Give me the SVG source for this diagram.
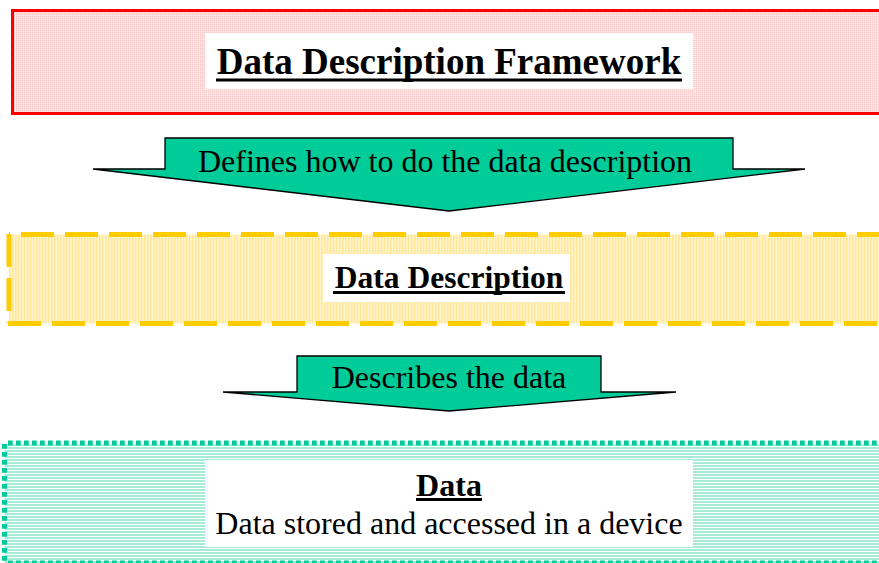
<svg xmlns="http://www.w3.org/2000/svg" width="879" height="563" viewBox="0 0 879 563">
<defs>
<pattern id="pinkDots" width="2" height="2" patternUnits="userSpaceOnUse">
<rect width="2" height="2" fill="#FFD2D2"/>
<rect x="1" y="1" width="1" height="1" fill="#FFFFFF"/>
</pattern>
<pattern id="yellowStripes" width="3" height="4" patternUnits="userSpaceOnUse">
<rect width="3" height="4" fill="#FFF4CC"/>
<rect x="0" y="0" width="1.5" height="4" fill="#FFE699"/>
</pattern>
<pattern id="greenStripes" width="4" height="3" patternUnits="userSpaceOnUse">
<rect width="4" height="3" fill="#FFFFFF"/>
<rect x="0" y="0" width="4" height="2" fill="#A6EBD6"/>
</pattern>
<style>
.bold{font-family:"Liberation Serif","Times New Roman",serif;font-weight:bold;fill:#000;text-anchor:middle}
.reg{font-family:"Liberation Serif","Times New Roman",serif;fill:#000;text-anchor:middle}
.ul{stroke:#000;stroke-width:3}
.arrow{fill:#00CC99;stroke:#000;stroke-width:1.3;stroke-linejoin:miter}
.ydash{stroke:#FFCC00;stroke-width:5;stroke-dasharray:33 11;fill:none}
.gdot{stroke:#00CC99;stroke-width:5;stroke-dasharray:4.7 3.3;fill:none}
</style>
</defs>

<g id="framework">
<rect x="12.5" y="10.5" width="880" height="103" fill="url(#pinkDots)" stroke="#FF0000" stroke-width="3"/>
<rect x="205" y="33" width="488" height="56" fill="#FFFFFF"/>
<text class="bold" x="449" y="74" font-size="37">Data Description Framework</text>
<line class="ul" x1="216" y1="80" x2="682" y2="80"/>
</g>

<g id="description">
<rect x="9" y="234.5" width="880" height="89" fill="url(#yellowStripes)"/>
<line class="ydash" x1="9" y1="234.5" x2="890" y2="234.5" stroke-dashoffset="32"/>
<line class="ydash" x1="8" y1="323.4" x2="890" y2="323.4"/>
<line class="ydash" x1="9" y1="234" x2="9" y2="323"/>
<rect x="323" y="254" width="247" height="48" fill="#FFFFFF"/>
<text class="bold" x="449" y="288" font-size="31.5">Data Description</text>
<line class="ul" x1="333" y1="292.5" x2="565" y2="292.5" stroke-width="2.6"/>
</g>

<g id="data">
<rect x="4.5" y="443" width="880" height="125" fill="url(#greenStripes)"/>
<line class="gdot" x1="8" y1="443" x2="890" y2="443"/>
<line class="gdot" x1="4.5" y1="444" x2="4.5" y2="563"/>
<line class="gdot" x1="8" y1="563" x2="890" y2="563"/>
<rect x="205" y="460" width="488" height="87" fill="#FFFFFF"/>
<text class="bold" x="449" y="496" font-size="32">Data</text>
<line class="ul" x1="416" y1="499.5" x2="482" y2="499.5" stroke-width="2.6"/>
<text class="reg" x="449" y="534" font-size="32">Data stored and accessed in a device</text>
</g>

<g id="connectors">
<g id="arrow1">
<polygon class="arrow" points="93,169 165,169 165,138 733,138 733,169 805,169 449,211"/>
<text class="reg" x="445" y="172" font-size="32">Defines how to do the data description</text>
</g>
<g id="arrow2">
<polygon class="arrow" points="223,392 297,392 297,356 601,356 601,392 676,392 449,411"/>
<text class="reg" x="449" y="388" font-size="32">Describes the data</text>
</g>
</g>
</svg>
